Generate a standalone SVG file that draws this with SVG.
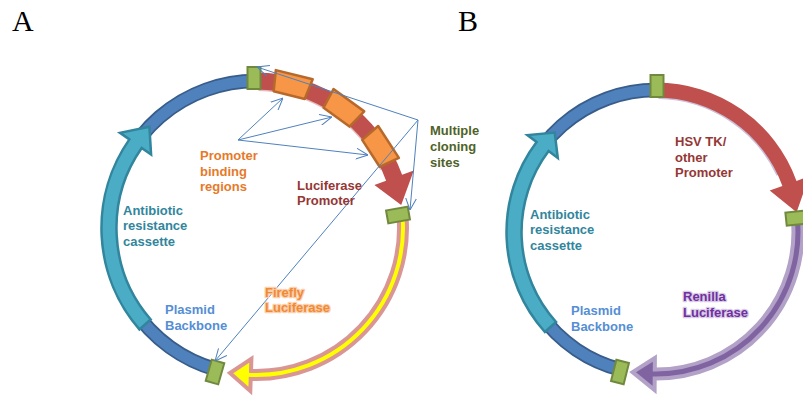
<svg xmlns="http://www.w3.org/2000/svg" width="803" height="396" viewBox="0 0 803 396">
<style>
  .lbl{font-family:"Liberation Sans",Arial,sans-serif;font-size:13px;font-weight:bold}
  .panel{font-family:"Liberation Serif","Times New Roman",serif;font-size:30px;fill:#000}
  .mk{fill:#9BBB59;stroke:#71893F;stroke-width:2}
  .box{fill:#F79646;stroke:#B7692B;stroke-width:2.5;stroke-linejoin:round}
  .conn{stroke:#4F81BD;stroke-width:1;fill:none}
  .bbo{fill:none;stroke:#385D8A;stroke-width:14.5}
  .bbf{fill:none;stroke:#4F81BD;stroke-width:11}
  .teal{fill:#4BACC6;stroke:#31859C;stroke-width:2.5;stroke-linejoin:miter}
</style>
<defs>
  <marker id="ah" viewBox="0 0 12 12" refX="12" refY="6" markerWidth="12" markerHeight="12" markerUnits="userSpaceOnUse" orient="auto">
    <path d="M0,0.5 L12,6 L0,11.5" fill="none" stroke="#4F81BD" stroke-width="1"/>
  </marker>
</defs>
<rect width="803" height="396" fill="#fff"/>
<text class="panel" x="12" y="31">A</text>
<text class="panel" x="458" y="31">B</text>

<!-- Panel A -->
<g id="A-promoter-shadow"><path d="M258.5 86 A142 142 0 0 1 384.7 168" fill="none" stroke="#E6B9B8" stroke-width="10"/></g>
<g id="A-backbone">
  <path class="bbo" d="M215.5 369.3 A147 147 0 0 1 256 81"/>
  <path class="bbf" d="M215.5 369.3 A147 147 0 0 1 256 81"/>
</g>
<g id="A-antibiotic">
  <path class="teal" d="M139.4 329.4 A154.5 154.5 0 0 1 129.4 139.4 L120 132.8 L149.4 126.8 L151.1 154.6 L141.7 148 A139.5 139.5 0 0 0 150.7 319.5 Z"/>
</g>
<g id="A-luc-promoter">
  <path d="M256 72.5 A155.5 155.5 0 0 1 402.1 174.8 L413.8 170.5 L401.2 205 L374.4 185 L386.1 180.7 A138.5 138.5 0 0 0 256 89.5 Z" fill="#C0504D"/>
</g>
<g id="A-firefly">
  <path d="M406.4 214.8 A151 151 0 0 1 250.7 378.9 L250.3 390.9 L230 373 L251.4 358.9 L251 370.9 A143 143 0 0 0 398.5 215.5 Z" fill="#FFFF00" stroke="#D99694" stroke-width="4" stroke-linejoin="miter"/>
</g>
<g id="A-binding-regions">
  <polygon class="box" points="-19,-11 19,-11 16,10 -16,10" transform="translate(291.6 85.4) rotate(14)"/>
  <polygon class="box" points="-19,-11 19,-11 16,10 -16,10" transform="translate(342.4 109.1) rotate(36)"/>
  <polygon class="box" points="-19,-11 19,-11 16,10 -16,10" transform="translate(379.3 147.9) rotate(57)"/>
</g>
<g id="A-mcs-markers">
  <rect class="mk" x="-6.5" y="-11" width="13" height="22" transform="translate(254 78)"/>
  <rect class="mk" x="-6.5" y="-11" width="13" height="22" transform="translate(398 215) rotate(80)"/>
  <rect class="mk" x="-6.5" y="-11" width="13" height="22" transform="translate(215 372) rotate(16)"/>
</g>
<g id="A-connectors">
  <line class="conn" x1="238" y1="140" x2="283" y2="98" marker-end="url(#ah)"/>
  <line class="conn" x1="238" y1="140" x2="332" y2="117" marker-end="url(#ah)"/>
  <line class="conn" x1="238" y1="140" x2="368" y2="155" marker-end="url(#ah)"/>
  <line class="conn" x1="418" y1="120" x2="257" y2="67" marker-end="url(#ah)"/>
  <line class="conn" x1="418" y1="120" x2="410" y2="210" marker-end="url(#ah)"/>
  <line class="conn" x1="418" y1="120" x2="215" y2="361" marker-end="url(#ah)"/>
</g>
<g id="A-labels">
  <text class="lbl" fill="#E67A2A"><tspan x="200" y="160">Promoter</tspan><tspan x="200" y="175.5">binding</tspan><tspan x="200" y="191">regions</tspan></text>
  <text class="lbl" fill="#953735"><tspan x="297" y="190">Luciferase</tspan><tspan x="297" y="205">Promoter</tspan></text>
  <text class="lbl" fill="#4F6228"><tspan x="430" y="135">Multiple</tspan><tspan x="430" y="151">cloning</tspan><tspan x="430" y="167">sites</tspan></text>
  <text class="lbl" fill="#31859C"><tspan x="123" y="214.5">Antibiotic</tspan><tspan x="123" y="230">resistance</tspan><tspan x="123" y="245.5">cassette</tspan></text>
  <text class="lbl" fill="#558ED5"><tspan x="165" y="314">Plasmid</tspan><tspan x="165" y="329.5">Backbone</tspan></text>
  <text class="lbl" fill="#F08A35" stroke="#FBD0AE" stroke-width="2.5" paint-order="stroke" stroke-linejoin="round"><tspan x="265" y="296.5">Firefly</tspan><tspan x="265" y="311.5">Luciferase</tspan></text>
</g>

<!-- Panel B -->
<g id="B-promoter-shadow"><path d="M658.4 96 A136 136 0 0 1 779.3 174.5" fill="none" stroke="#CCC1DA" stroke-width="6"/></g>
<g id="B-backbone">
  <path class="bbo" d="M621.6 369.8 A142 142 0 0 1 656 90"/>
  <path class="bbf" d="M621.6 369.8 A142 142 0 0 1 656 90"/>
</g>
<g id="B-antibiotic">
  <path class="teal" d="M544.9 332 A149.5 149.5 0 0 1 536.6 142 L527.4 135.1 L554.7 132.5 L557.8 158 L548.6 151.1 A134.5 134.5 0 0 0 556.1 322 Z"/>
</g>
<g id="B-hsv-promoter">
  <path d="M656 82.5 A149.5 149.5 0 0 1 796.5 180.9 L809.2 176.3 L796.6 212.2 L769.7 190.6 L782.4 186 A134.5 134.5 0 0 0 656 97.5 Z" fill="#C0504D"/>
</g>
<g id="B-renilla">
  <path d="M801.7 216.7 A146.5 146.5 0 0 1 654.7 378.5 L654.6 390 L632.6 372.1 L654.9 358 L654.8 369.5 A137.5 137.5 0 0 0 792.7 217.6 Z" fill="#8064A2" stroke="#B3A2C7" stroke-width="4" stroke-linejoin="miter"/>
</g>
<g id="B-markers">
  <rect class="mk" x="-6.5" y="-11" width="13" height="22" transform="translate(657 86)"/>
  <rect class="mk" x="-6.5" y="-11" width="13" height="22" transform="translate(797 218) rotate(84)"/>
  <rect class="mk" x="-6.5" y="-11" width="13" height="22" transform="translate(620 372) rotate(14)"/>
</g>
<g id="B-labels">
  <text class="lbl" fill="#953735"><tspan x="675" y="146">HSV TK/</tspan><tspan x="675" y="161.5">other</tspan><tspan x="675" y="177">Promoter</tspan></text>
  <text class="lbl" fill="#31859C"><tspan x="530" y="218.5">Antibiotic</tspan><tspan x="530" y="234">resistance</tspan><tspan x="530" y="249.5">cassette</tspan></text>
  <text class="lbl" fill="#558ED5"><tspan x="571" y="315">Plasmid</tspan><tspan x="571" y="330.5">Backbone</tspan></text>
  <text class="lbl" fill="#7030A0" stroke="#D9CCE6" stroke-width="2.5" paint-order="stroke" stroke-linejoin="round"><tspan x="683" y="301">Renilla</tspan><tspan x="683" y="316.5">Luciferase</tspan></text>
</g>
</svg>
